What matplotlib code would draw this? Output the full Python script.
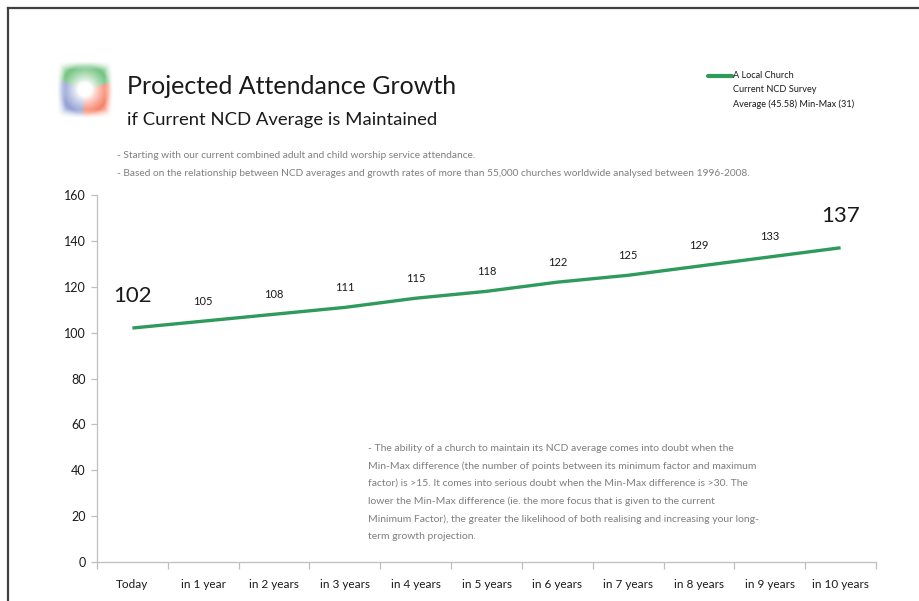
"""
Projected attendance growth chart for a local church, based on its
current NCD survey average.
"""

import matplotlib.pyplot as plt
import numpy as np
from matplotlib.lines import Line2D

# ----------------------------------------------------------------------------
# Data
# ----------------------------------------------------------------------------
periods = ["Today", "in 1 year", "in 2 years", "in 3 years", "in 4 years",
           "in 5 years", "in 6 years", "in 7 years", "in 8 years",
           "in 9 years", "in 10 years"]
attendance = [102, 105, 108, 111, 115, 118, 122, 125, 129, 133, 137]
y_ticks = [0, 20, 40, 60, 80, 100, 120, 140, 160]

legend_lines = ["A Local Church", "Current NCD Survey",
                "Average (45.58) Min-Max (31)"]
top_notes = [
    "- Starting with our current combined adult and child worship service attendance.",
    "- Based on the relationship between NCD averages and growth rates of more than "
    "55,000 churches worldwide analysed between 1996-2008.",
]
bottom_note = [
    "- The ability of a church to maintain its NCD average comes into doubt when the",
    "Min-Max difference (the number of points between its minimum factor and maximum",
    "factor) is >15. It comes into serious doubt when the Min-Max difference is >30. The",
    "lower the Min-Max difference (ie. the more focus that is given to the current",
    "Minimum Factor), the greater the likelihood of both realising and increasing your long-",
    "term growth projection.",
]

# ----------------------------------------------------------------------------
# Style
# ----------------------------------------------------------------------------
GREEN = "#2E9A5C"
AXIS_GRAY = "#BFBFBF"
NOTE_GRAY = "#7F7F7F"
FRAME = "#404040"
FONT = "Lato"

plt.rcParams["font.family"] = FONT

W, H = 919, 601
fig = plt.figure(figsize=(W / 100, H / 100), dpi=100)
fig.patch.set_facecolor("white")


def fx(px):
    return px / W


def fy(py):
    return 1 - py / H


# Page frame: top and left edges only
fig.add_artist(Line2D([fx(8), 1], [fy(8), fy(8)], color=FRAME, lw=1.6))
fig.add_artist(Line2D([fx(8), fx(8)], [fy(8), 0], color=FRAME, lw=1.6))

# ----------------------------------------------------------------------------
# Logo: three soft coloured sectors around a white centre
# ----------------------------------------------------------------------------
n = 120
g = np.linspace(-1, 1, n)
xx, yy = np.meshgrid(g, -g)
r = np.hypot(xx, yy)
theta = np.degrees(np.arctan2(yy, xx))
green = np.array([0.36, 0.72, 0.42])
red = np.array([0.96, 0.42, 0.30])
blue = np.array([0.50, 0.56, 0.80])
sector = np.where((theta > 15) & (theta < 160), 0,
                  np.where((theta <= 15) & (theta > -95), 1, 2))
cols = np.stack([green, red, blue])[sector]
strength = np.clip((r - 0.25) / 0.6, 0, 1) ** 0.8
edge = np.clip((1.0 - np.maximum(np.abs(xx), np.abs(yy))) / 0.3, 0, 1)
strength = 0.85 * strength * np.clip((1.3 - r) / 0.45, 0, 1) * edge
img = 1 - strength[..., None] * (1 - cols)
logo_ax = fig.add_axes([fx(57), fy(118), fx(56), 57 / H])
logo_ax.imshow(img, interpolation="bicubic")
logo_ax.axis("off")

# ----------------------------------------------------------------------------
# Titles and notes
# ----------------------------------------------------------------------------
fig.text(fx(127), fy(87), "Projected Attendance Growth", fontsize=18,
         color="#1A1A1A", va="center", ha="left")
fig.text(fx(127), fy(120), "if Current NCD Average is Maintained", fontsize=13.3,
         color="#1A1A1A", va="center", ha="left")
for i, note in enumerate(top_notes):
    fig.text(fx(117), fy(156 + 18 * i), note, fontsize=7.3, color=NOTE_GRAY,
             va="center", ha="left")

# Legend
fig.add_artist(Line2D([fx(708), fx(732)], [fy(76), fy(76)], color=GREEN,
                      lw=3, solid_capstyle="round"))
for i, line in enumerate(legend_lines):
    fig.text(fx(733), fy(76 + 14 * i), line, fontsize=6.6, color="#1A1A1A",
             va="center", ha="left")

# Footnote under the line
fig.text(fx(368), fy(444), "\n".join(bottom_note), fontsize=7.45,
         color=NOTE_GRAY, va="top", ha="left", linespacing=2.12)

# ----------------------------------------------------------------------------
# Chart
# ----------------------------------------------------------------------------
ax = fig.add_axes([fx(97), fy(562), fx(876) - fx(97), (562 - 195) / H])
x = np.arange(len(periods))
ax.plot(x, attendance, color=GREEN, lw=2.4, solid_capstyle="butt")

for i, v in enumerate(attendance):
    big = i in (0, len(attendance) - 1)
    ax.annotate(str(v), (i, v), xytext=(0, 23 if big else 14.5),
                textcoords="offset points", ha="center", va="center",
                fontsize=16 if big else 8, color="#1A1A1A")

ax.set_xlim(-0.5, len(periods) - 0.5)
ax.set_ylim(0, 160)
ax.set_yticks(y_ticks)
ax.set_yticklabels([str(t) for t in y_ticks])
ax.set_xticks(x)
ax.set_xticklabels(periods)
ax.set_xticks(np.arange(len(periods) + 1) - 0.5, minor=True)

for side in ("top", "right"):
    ax.spines[side].set_visible(False)
for side in ("left", "bottom"):
    ax.spines[side].set_color(AXIS_GRAY)
    ax.spines[side].set_linewidth(0.9)

ax.tick_params(axis="y", colors=AXIS_GRAY, labelcolor="#1A1A1A",
               labelsize=9, length=4, width=0.9, pad=4)
ax.tick_params(axis="x", which="major", length=0, labelsize=8.5,
               labelcolor="#1A1A1A", pad=12)
ax.tick_params(axis="x", which="minor", length=5, width=0.9, color=AXIS_GRAY)

fig.savefig("out.png", dpi=100)
